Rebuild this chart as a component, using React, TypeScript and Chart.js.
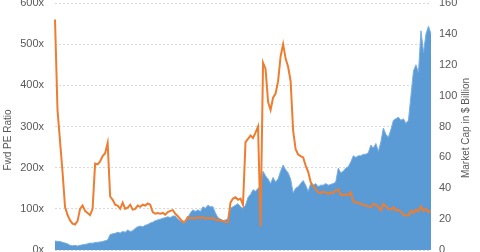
import React, { useEffect, useRef } from "react";
import { Chart, registerables } from "chart.js";

Chart.register(...registerables);

const peRatio: number[] = [
  560, 340, 265, 190, 105, 85, 72, 64, 62, 70,
  100, 108, 95, 90, 85, 100, 210, 208, 215, 228,
  235, 260, 130, 122, 110, 108, 100, 115, 100, 103,
  110, 98, 100, 108, 105, 110, 108, 113, 110, 92,
  88, 90, 88, 90, 86, 92, 95, 97, 88, 82,
  75, 68, 70, 80, 77, 78, 76, 80, 78, 80,
  76, 78, 76, 78, 74, 72, 73, 70, 68, 68,
  115, 125, 128, 122, 125, 110, 262, 270, 278, 272,
  285, 300, 57, 455, 440, 360, 340, 370, 380, 410,
  470, 500, 465, 445, 410, 290, 245, 232, 228, 225,
  205, 190, 165, 155, 148, 140, 138, 142, 140, 136,
  140, 138, 145, 147, 133, 134, 135, 134, 140, 118,
  116, 114, 112, 110, 108, 106, 104, 112, 110, 104,
  96, 112, 106, 100, 98, 104, 96, 98, 92, 86,
  84, 84, 95, 90, 98, 94, 106, 95, 100, 92,
  94,
];

const marketCap: number[] = [
  5.8, 5.6, 5.5, 5.0, 4.5, 4.0, 3.0, 2.8, 3.0, 2.6,
  3.0, 3.4, 3.6, 4.0, 4.5, 4.4, 4.8, 5.0, 5.2, 5.5,
  6.0, 6.5, 10, 10.5, 10.8, 11.5, 11, 12, 11.5, 13,
  12, 12.5, 14, 15, 15.5, 15, 16, 16.5, 17.5, 18,
  19, 19.5, 20, 20.5, 21, 21.5, 21, 22, 22, 20,
  19, 17.5, 18, 21, 24, 26, 25, 26, 25, 28,
  27, 29, 28, 28, 24, 21, 20, 19, 19.5, 20,
  27, 28, 29, 30, 28, 27, 29, 34, 36, 39,
  38, 40, 41, 51, 48, 46, 43, 47, 44, 46,
  51, 55, 52, 50, 46, 37, 40, 41, 43, 45,
  42, 38, 43, 42, 43, 41, 42, 42, 43, 42,
  42.5, 43, 44, 53, 50, 51, 53, 54, 57, 61,
  60, 61, 61, 62, 62, 63, 68, 66, 69, 64,
  70, 79, 75, 73, 78, 84, 85, 86, 84, 85,
  82, 84, 100, 116, 120, 115, 142, 128, 140, 145,
  140,
];

const periods: string[] = peRatio.map((_, i) => `P${i + 1}`);

const peTicks: number[] = [0, 100, 200, 300, 400, 500, 600];
const capTicks: number[] = [0, 20, 40, 60, 80, 100, 120, 140, 160];

const leftTitle = "Fwd PE Ratio";
const rightTitle = "Market Cap in $ Billion";

const FONT = "'Liberation Sans', Arial, sans-serif";
const GREY = "#595959";

export default function App() {
  const ref = useRef<HTMLCanvasElement | null>(null);

  useEffect(() => {
    if (!ref.current) return;
    const titlePlugin = {
      id: "axisTitles",
      afterDraw(chart: any) {
        const ctx = chart.ctx;
        const draw = (text: string, x: number, y: number) => {
          ctx.save();
          ctx.fillStyle = GREY;
          ctx.font = `10px ${FONT}`;
          ctx.textAlign = "center";
          ctx.textBaseline = "middle";
          ctx.translate(x, y);
          ctx.rotate(-Math.PI / 2);
          ctx.fillText(text, 0, 0);
          ctx.restore();
        };
        draw(leftTitle, 8, 150);
        draw(rightTitle, 466, 138);
      },
    };
    const noPad = (s: any, w: number) => {
      s.width = w;
      s.paddingTop = 0;
      s.paddingBottom = 0;
      s.paddingLeft = 0;
      s.paddingRight = 0;
    };
    const chart = new Chart(ref.current, {
      type: "line",
      data: {
        labels: periods,
        datasets: [
          {
            label: "Fwd PE Ratio",
            data: peRatio,
            yAxisID: "yPE",
            borderColor: "#ed7d31",
            borderWidth: 2,
            pointRadius: 0,
            fill: false,
            tension: 0,
            order: 0,
          },
          {
            label: "Market Cap",
            data: marketCap,
            yAxisID: "yCap",
            borderColor: "#7aaee0",
            borderWidth: 1,
            backgroundColor: "#5b9bd5",
            pointRadius: 0,
            fill: "origin",
            tension: 0,
            order: 1,
          },
        ],
      },
      options: {
        animation: false,
        responsive: false,
        layout: { autoPadding: false, padding: { top: 13, bottom: 12, left: 0, right: 0 } },
        plugins: { legend: { display: false }, tooltip: { enabled: false } },
        scales: {
          x: { type: "category", display: false, offset: false },
          yPE: {
            position: "left",
            min: 0,
            max: 600,
            afterBuildTicks: (s: any) => {
              s.ticks = peTicks.map((v) => ({ value: v }));
            },
            afterFit: (s: any) => noPad(s, 55),
            border: { display: false, dash: [2, 2] },
            grid: { color: "#d9d9d9", drawTicks: false },
            ticks: {
              padding: 11,
              color: GREY,
              font: { family: FONT, size: 11 },
              callback: (v: any) => `${v}x`,
            },
          },
          yCap: {
            position: "right",
            min: 0,
            max: 160,
            afterBuildTicks: (s: any) => {
              s.ticks = capTicks.map((v) => ({ value: v }));
            },
            afterFit: (s: any) => noPad(s, 49),
            border: { display: false },
            grid: { display: false, drawTicks: false },
            ticks: {
              padding: 8,
              color: GREY,
              font: { family: FONT, size: 11 },
            },
          },
        },
      } as any,
      plugins: [titlePlugin],
    });
    return () => chart.destroy();
  }, []);

  return (
    <div style={{ position: "fixed", left: 0, top: -10, width: 480, height: 272 }}>
      <canvas ref={ref} width={480} height={272} />
    </div>
  );
}
